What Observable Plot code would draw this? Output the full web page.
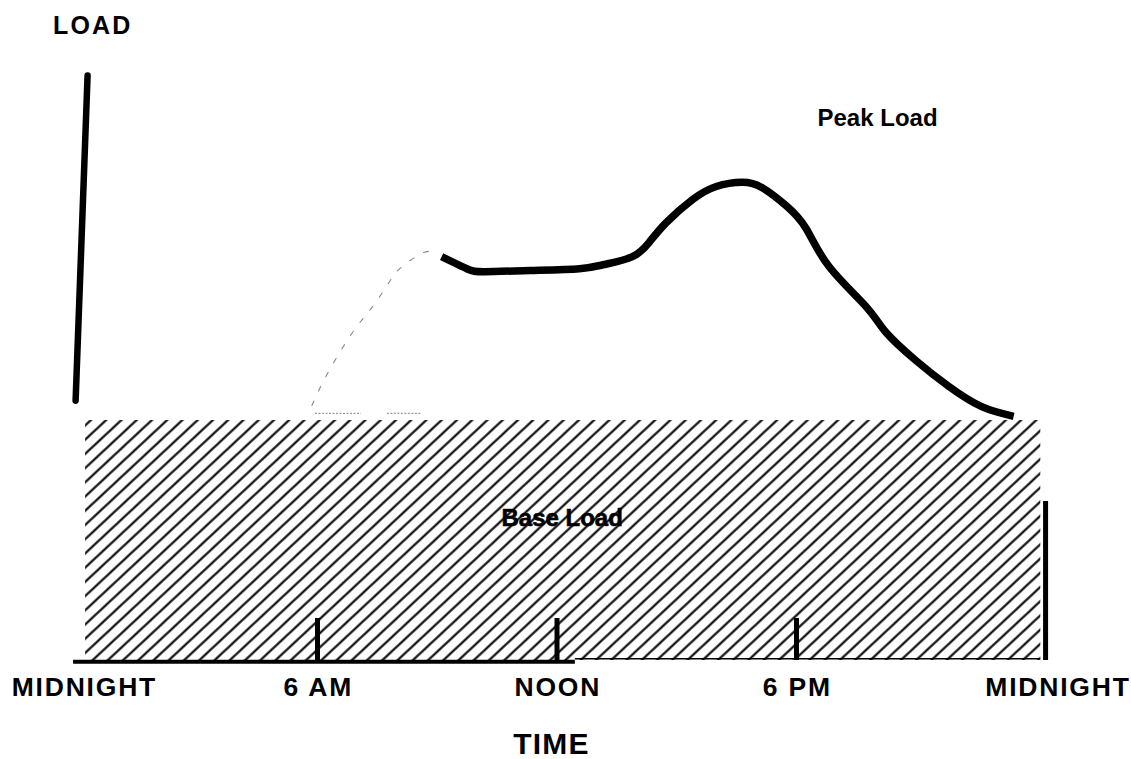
<!DOCTYPE html>
<html>
<head>
<meta charset="utf-8">
<script src="https://cdn.jsdelivr.net/npm/d3@7"></script>
<script src="https://cdn.jsdelivr.net/npm/@observablehq/plot@0.6"></script>
<style>
  html, body { margin: 0; padding: 0; background: #fff; }
  svg { display: block; }
</style>
</head>
<body>
<div id="chart"></div>
<script>
// ---- data (hours of day, load in arbitrary units) ----
const peakHours = [9.11, 9.74, 10.19, 11.33, 12.56, 13.19, 13.89, 14.31, 14.74, 15.39, 15.99, 16.64, 17.14, 17.74, 18.24, 18.81, 19.74, 20.24, 20.99, 21.81, 22.64, 23.44];
const peakLoad  = [67.3, 65.3, 64.8, 65.0, 65.3, 66.0, 67.3, 69.7, 73.0, 76.8, 79.0, 79.7, 78.8, 75.8, 72.0, 65.7, 59.0, 54.7, 50.0, 45.7, 42.3, 40.7];
const rampHours = [5.86, 6.24, 6.86, 7.36, 7.81, 8.06, 8.56, 8.89];
const rampLoad  = [42.5, 47.7, 54.5, 58.8, 63.2, 65.3, 67.7, 68.2];
const baseLoad = 40;
const baseStart = 0.19, baseEnd = 24.12;
const tickHours = [6, 12, 18];
const tickTop = 7;
const endMarkHour = 24.24, endMarkTop = 26.5;
const axisHours = [0.24, -0.06];
const axisLoad = [97.5, 43.3];
const labelHours = [0.16, 6.02, 12.02, 18.02, 24.55];
const labelTexts = ["MIDNIGHT", "6 AM", "NOON", "6 PM", "MIDNIGHT"];

const peak = peakHours.map((h, i) => ({h, v: peakLoad[i]}));
const ramp = rampHours.map((h, i) => ({h, v: rampLoad[i]}));
const axis = axisHours.map((h, i) => ({h, v: axisLoad[i]}));

const font = "'Liberation Sans', Arial, Helvetica, sans-serif";

const svg = Plot.plot({
  width: 1131,
  height: 759,
  marginLeft: 77.5,
  marginRight: 95.5,
  marginTop: 60,
  marginBottom: 99,
  x: {domain: [0, 24], axis: null},
  y: {domain: [0, 100], axis: null},
  style: {background: "#fff", overflow: "visible", fontFamily: font},
  marks: [
    // base load hatched block
    Plot.rect([{x1: baseStart, x2: baseEnd, y1: 0, y2: baseLoad}], {x1: "x1", x2: "x2", y1: "y1", y2: "y2", fill: "url(#hatch)"}),
    // faint dashed ramp and faint dashes above base
    Plot.line(ramp, {x: "h", y: "v", curve: "natural", stroke: "#888", strokeWidth: 1.1, strokeDasharray: "5 11"}),
    Plot.ruleY([41.2], {x1: 5.95, x2: 7.1, stroke: "#999", strokeWidth: 1.2, strokeDasharray: "2 1.5"}),
    Plot.ruleY([41.2], {x1: 7.75, x2: 8.6, stroke: "#999", strokeWidth: 1.2, strokeDasharray: "2 1.5"}),
    // peak load curve
    Plot.line(peak, {x: "h", y: "v", curve: "natural", stroke: "#000", strokeWidth: 7.5, strokeLinecap: "butt"}),
    // vertical load axis
    Plot.line(axis, {x: "h", y: "v", stroke: "#000", strokeWidth: 6.5}),
    // bottom base line
    Plot.ruleY([-0.2], {x1: -0.11, x2: 12.46, stroke: "#000", strokeWidth: 4}),
    Plot.ruleY([0.3], {x1: 12.46, x2: baseEnd, stroke: "#000", strokeWidth: 1.5}),
    // ticks
    Plot.ruleX(tickHours, {y1: 0, y2: tickTop, stroke: "#000", strokeWidth: 5}),
    Plot.ruleX([endMarkHour], {y1: 0, y2: endMarkTop, stroke: "#000", strokeWidth: 5}),
    // labels
    Plot.text(labelTexts, {x: (d, i) => labelHours[i], y: -4.5, text: d => d, fontSize: 26.5, fontWeight: "bold", fill: "#000", textAnchor: "middle", lineAnchor: "middle", className: "ticklab"}),
    Plot.text(["TIME"], {x: 11.86, y: -13.9, text: d => d, fontSize: 30, fontWeight: "bold", fill: "#000", textAnchor: "middle", lineAnchor: "middle", className: "timelab"}),
    Plot.text(["LOAD"], {x: 0.37, y: 105.8, text: d => d, fontSize: 25, fontWeight: "bold", fill: "#000", textAnchor: "middle", lineAnchor: "middle", className: "loadlab"}),
    Plot.text(["Peak Load"], {x: 20.03, y: 90.3, text: d => d, fontSize: 24, fontWeight: "bold", fill: "#000", textAnchor: "middle", lineAnchor: "middle"}),
    Plot.text(["Base Load"], {x: 12.13, y: 23.7, text: d => d, fontSize: 24, fontWeight: "bold", fill: "#000", stroke: "#000", strokeWidth: 0.6, textAnchor: "middle", lineAnchor: "middle"})
  ]
});

// wider letter spacing like the original lettering
d3.select(svg).selectAll(".ticklab text").attr("letter-spacing", "1.8px");
d3.select(svg).selectAll(".timelab text").attr("letter-spacing", "1.2px");
d3.select(svg).selectAll(".loadlab text").attr("letter-spacing", "2.2px");

// hatch pattern definition
const defs = d3.select(svg).insert("defs", ":first-child");
const pat = defs.append("pattern")
  .attr("id", "hatch")
  .attr("patternUnits", "userSpaceOnUse")
  .attr("width", 20)
  .attr("height", 10.4)
  .attr("patternTransform", "rotate(-43)");
pat.append("line")
  .attr("x1", -1).attr("x2", 21)
  .attr("y1", 5.2).attr("y2", 5.2)
  .attr("stroke", "#000")
  .attr("stroke-width", 2.1);

document.getElementById("chart").appendChild(svg);
</script>
</body>
</html>
